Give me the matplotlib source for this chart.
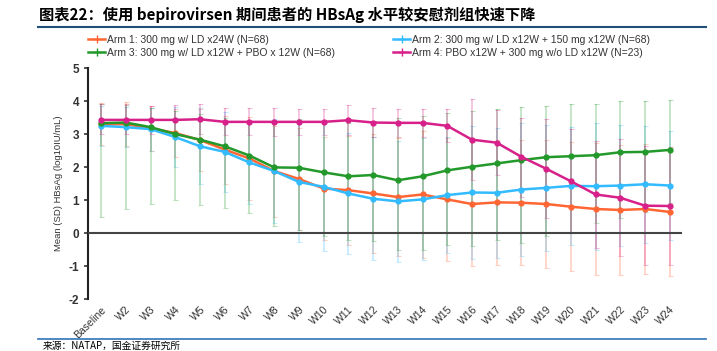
import numpy as np
import matplotlib
matplotlib.use("Agg")
import matplotlib.pyplot as plt
from matplotlib.lines import Line2D

plt.rcParams['font.family'] = ['Liberation Sans', 'Noto Sans CJK SC', 'DejaVu Sans']
plt.rcParams['axes.unicode_minus'] = False

weeks = ["Baseline"] + [f"W{i}" for i in range(2, 25)]

# 均值
arm1 = [3.30, 3.30, 3.18, 3.03, 2.82, 2.53, 2.26, 1.88, 1.64, 1.35, 1.30, 1.20,
        1.09, 1.17, 1.02, 0.88, 0.93, 0.92, 0.88, 0.80, 0.73, 0.70, 0.73, 0.64]
arm2 = [3.25, 3.21, 3.15, 2.91, 2.63, 2.46, 2.14, 1.88, 1.55, 1.40, 1.20, 1.04,
        0.96, 1.02, 1.15, 1.23, 1.22, 1.32, 1.37, 1.43, 1.42, 1.44, 1.48, 1.44]
arm3 = [3.33, 3.35, 3.21, 3.00, 2.83, 2.63, 2.35, 1.99, 1.98, 1.84, 1.72, 1.76,
        1.60, 1.72, 1.90, 2.01, 2.11, 2.21, 2.30, 2.33, 2.36, 2.45, 2.46, 2.52]
arm4 = [3.43, 3.43, 3.43, 3.43, 3.45, 3.37, 3.37, 3.37, 3.37, 3.37, 3.42, 3.35,
        3.34, 3.34, 3.25, 2.83, 2.74, 2.31, 1.95, 1.57, 1.17, 1.07, 0.83, 0.82]

# SD 误差线 (下端 / 上端)
arm1_lo = [2.66, 2.63, 2.50, 2.30, 1.88, 1.50, 1.00, 0.50, 0.10, -0.20, -0.35, -0.60,
           -0.70, -0.75, -0.85, -1.00, -0.97, -0.97, -1.07, -1.16, -1.26, -1.26, -1.25, -1.30]
arm1_hi = [3.94, 3.97, 3.86, 3.76, 3.76, 3.56, 3.52, 3.26, 3.18, 2.90, 2.95, 3.00,
           2.88, 3.09, 2.89, 2.76, 2.83, 2.81, 2.83, 2.76, 2.72, 2.66, 2.71, 2.58]
arm2_lo = [2.65, 2.60, 2.50, 2.00, 1.48, 1.25, 0.87, 0.30, -0.28, -0.55, -0.63, -0.83,
           -0.88, -0.83, -0.60, -0.78, -0.75, -0.70, -0.55, -0.35, -0.50, -0.40, -0.30, -0.20]
arm2_hi = [3.85, 3.82, 3.80, 3.82, 3.78, 3.67, 3.41, 3.46, 3.38, 3.35, 3.03, 2.91,
           2.80, 2.87, 2.90, 3.24, 3.19, 3.34, 3.29, 3.21, 3.34, 3.28, 3.26, 3.08]
arm3_lo = [0.50, 0.72, 0.88, 1.00, 0.85, 0.77, 0.62, 0.20, 0.10, -0.10, -0.20, -0.25,
           -0.50, -0.50, -0.35, -0.38, -0.20, -0.30, -0.10, 0.00, 0.30, 0.45, 0.65, 0.90]
arm3_hi = [3.90, 3.88, 3.80, 3.70, 3.60, 3.50, 3.40, 3.35, 3.45, 3.40, 3.35, 3.40,
           3.50, 3.55, 3.65, 3.70, 3.75, 3.83, 3.86, 3.91, 3.91, 3.99, 3.99, 4.04]
arm4_lo = [3.00, 3.00, 3.00, 3.00, 3.00, 2.98, 2.97, 2.95, 2.98, 2.98, 2.97, 2.90,
           2.90, 2.90, 2.75, 1.60, 1.75, 1.10, 0.45, 0.00, -0.45, -0.70, -0.97, -0.97]
arm4_hi = [3.92, 3.90, 3.85, 3.88, 3.90, 3.78, 3.78, 3.80, 3.75, 3.77, 3.87, 3.80,
           3.77, 3.77, 3.77, 4.05, 3.74, 3.50, 3.45, 3.15, 2.80, 2.85, 2.65, 2.60]

labels = ["Arm 1: 300 mg w/ LD x24W (N=68)",
          "Arm 2: 300 mg w/ LD x12W + 150 mg x12W (N=68)",
          "Arm 3: 300 mg w/ LD x12W + PBO x 12W (N=68)",
          "Arm 4: PBO x12W + 300 mg w/o LD x12W (N=23)"]
colors = ["#FF6633", "#33BBFF", "#22992A", "#D8208A"]

series = [(arm1, arm1_lo, arm1_hi), (arm2, arm2_lo, arm2_hi),
          (arm3, arm3_lo, arm3_hi), (arm4, arm4_lo, arm4_hi)]

fig = plt.figure(figsize=(7.17, 3.51), dpi=100)
ax = fig.add_axes([0.1227, 0.148, 0.828, 0.658])
x = np.arange(len(weeks))

# 误差线先画
for (m, lo, hi), c in zip(series, colors):
    m = np.array(m)
    yerr = [m - np.array(lo), np.array(hi) - m]
    ax.errorbar(x, m, yerr=yerr, fmt="none", ecolor=c, alpha=0.3,
                elinewidth=1.2, capsize=1.8, capthick=0.8, zorder=2)

for (m, lo, hi), c in zip(series, colors):
    ax.plot(x, m, color=c, linewidth=1.8, marker="o", markersize=3.5, zorder=4)

ax.axhline(0, color="#444444", linewidth=1.5, zorder=3)
ax.set_xlim(-0.53, 23.48)
ax.set_ylim(-2, 5)
ax.set_yticks(range(-2, 6))
ax.set_xticks(x)
ax.set_xticklabels(weeks, rotation=45, ha="right", rotation_mode="anchor",
                   fontsize=7.5, color="#333333")
ax.tick_params(axis="x", length=0, pad=4)
ax.tick_params(axis="y", labelsize=8.5, colors="#333333", length=3, width=1.2,
               direction="out")
for lab in ax.get_yticklabels():
    lab.set_fontweight("bold")
for s in ["top", "right", "bottom"]:
    ax.spines[s].set_visible(False)
ax.spines["left"].set_linewidth(1.5)
ax.spines["left"].set_color("#222222")
ax.set_ylabel("Mean (SD) HBsAg (log10IU/mL)", fontsize=6.8, color="#333333",
              labelpad=4)

handles = [Line2D([0], [0], color=c, linewidth=1.8, marker="+", markersize=6)
           for c in colors]
order = [0, 2, 1, 3]
fig.legend([handles[i] for i in order], [labels[i] for i in order], ncol=2,
           loc="upper left", bbox_to_anchor=(0.11, 0.928), frameon=False,
           fontsize=7.5, handlelength=1.6, handletextpad=0.2,
           columnspacing=5.6, labelspacing=0.3, labelcolor="#333333")

# 标题与分隔线
fig.text(0.055, 0.958, "图表22：使用 bepirovirsen 期间患者的 HBsAg 水平较安慰剂组快速下降",
         fontsize=11, fontweight="bold", style="italic",
         family=["Noto Sans CJK SC", "DejaVu Sans"], va="center")
fig.add_artist(Line2D([0.053, 0.984], [0.922, 0.922], color="#1F4E79",
                      linewidth=1.5))
fig.add_artist(Line2D([0.053, 0.984], [0.035, 0.035], color="#2E75B6",
                      linewidth=1.2))
fig.text(0.06, 0.014, "来源：NATAP，国金证券研究所", fontsize=7,
         family=["Noto Sans CJK SC", "DejaVu Sans"], va="center")

fig.savefig("out.png", dpi=100)
